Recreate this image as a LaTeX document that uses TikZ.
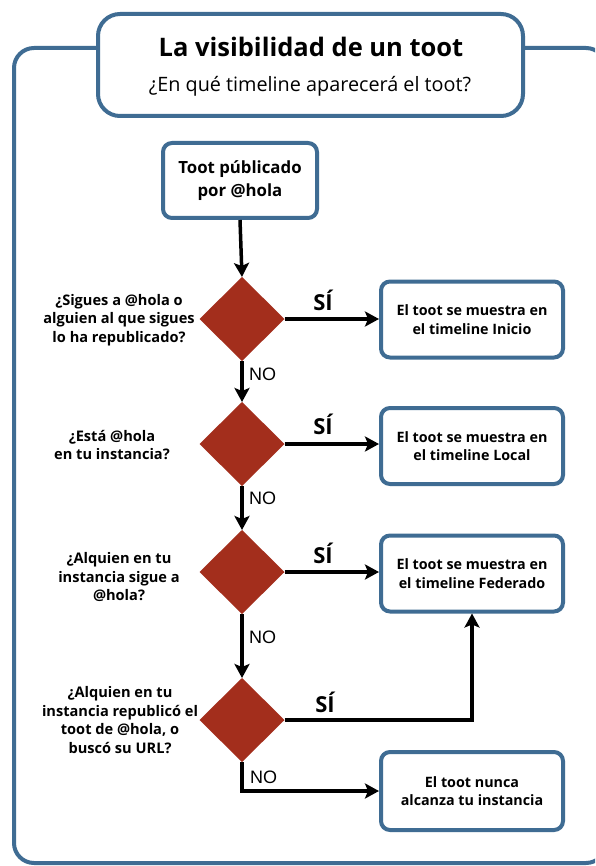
\documentclass[tikz,border=0pt]{standalone}
\usepackage{fontspec}
\setmainfont{Open Sans}
\newfontfamily\nofont{Liberation Sans}
\usetikzlibrary{arrows.meta,shapes.geometric}
\definecolor{frameblue}{HTML}{3F6C93}
\definecolor{dred}{HTML}{A32E1C}
\tikzset{
  box/.style={draw=frameblue, line width=4pt, rounded corners=9pt, fill=white,
    minimum width=182pt, minimum height=76pt, align=center, inner sep=1pt,
    font=\bfseries\fontsize{14.3}{18.4}\selectfont},
  dec/.style={diamond, fill=dred, minimum width=85pt, minimum height=84pt, inner sep=0pt, outer sep=0pt},
  arr/.style={line width=3.5pt, -{Stealth[length=14pt, width=15pt, inset=3pt]}},
  ques/.style={align=center, inner sep=1pt, font=\bfseries\fontsize{14.6}{18.6}\selectfont},
  si/.style={font=\bfseries\fontsize{22}{26}\selectfont},
  no/.style={anchor=west, inner sep=1pt, font=\nofont\fontsize{18}{20}\selectfont}
}
\begin{document}
\begin{tikzpicture}[x=1pt,y=-1pt]
\useasboundingbox (0,0) rectangle (595,866);
\clip (0,0) rectangle (595,866);
\fill[white] (0,0) rectangle (595,866);
% outer frame
\draw[frameblue, line width=4pt, rounded corners=20pt] (14,48) rectangle (606,863);
% title
\node[draw=frameblue, line width=4pt, rounded corners=22pt, fill=white,
  minimum width=425pt, minimum height=102pt] (title) at (310.5,65) {};
\node[font=\bfseries\fontsize{25.5}{30}\selectfont] (t1) at (311,47) {La visibilidad de un toot};
\node[font=\fontsize{19.8}{24}\selectfont] (t2) at (310,86) {¿En qué timeline aparecerá el toot?};
% start
\node[box, minimum width=154pt, minimum height=75pt, font=\bfseries\fontsize{16.8}{23}\selectfont] (start) at (240,180.5) {Toot públicado\\por @hola};
% diamonds
\node[dec] (d1) at (242,319) {};
\node[dec] (d2) at (242,444) {};
\node[dec] (d3) at (242,572) {};
\node[dec] (d4) at (242,720) {};
% result boxes
\node[box] (b1) at (472,319.5) {El toot se muestra en\\el timeline Inicio};
\node[box] (b2) at (472,446) {El toot se muestra en\\el timeline Local};
\node[box] (b3) at (472,573.5) {El toot se muestra en\\el timeline Federado};
\node[box, minimum height=78pt] (b4) at (472,791) {El toot nunca\\alcanza tu instancia};
% questions
\node[ques] (q1) at (119,320) {¿Sigues a @hola o\\alguien al que sigues\\lo ha republicado?};
\node[ques] (q2) at (112,445) {¿Está @hola\\en tu instancia?};
\node[ques] (q3) at (119,577) {¿Alquien en tu\\instancia sigue a\\@hola?};
\node[ques] (q4) at (120,720) {¿Alquien en tu\\instancia republicó el\\toot de @hola, o\\buscó su URL?};
% labels
\node[si] (s1) at (323,300) {SÍ};
\node[si] (s2) at (323,424) {SÍ};
\node[si] (s3) at (323,553) {SÍ};
\node[si] (s4) at (325,702) {SÍ};
\node[no] (n1) at (248,374) {NO};
\node[no] (n2) at (248,498) {NO};
\node[no] (n3) at (248,637) {NO};
\node[no] (n4) at (249,777) {NO};
% connectors
\draw[arr] (start.south) -- (d1.north);
\draw[arr] (d1.south) -- (d2.north);
\draw[arr] (d2.south) -- (d3.north);
\draw[arr] (d3.south) -- (d4.north);
\draw[arr] (d1.east) -- (d1.east -| b1.west);
\draw[arr] (d2.east) -- (d2.east -| b2.west);
\draw[arr] (d3.east) -- (d3.east -| b3.west);
\draw[arr] (d4.east) -| (b3.south);
\draw[arr] (d4.south) |- (b4.west);
\end{tikzpicture}
\end{document}
